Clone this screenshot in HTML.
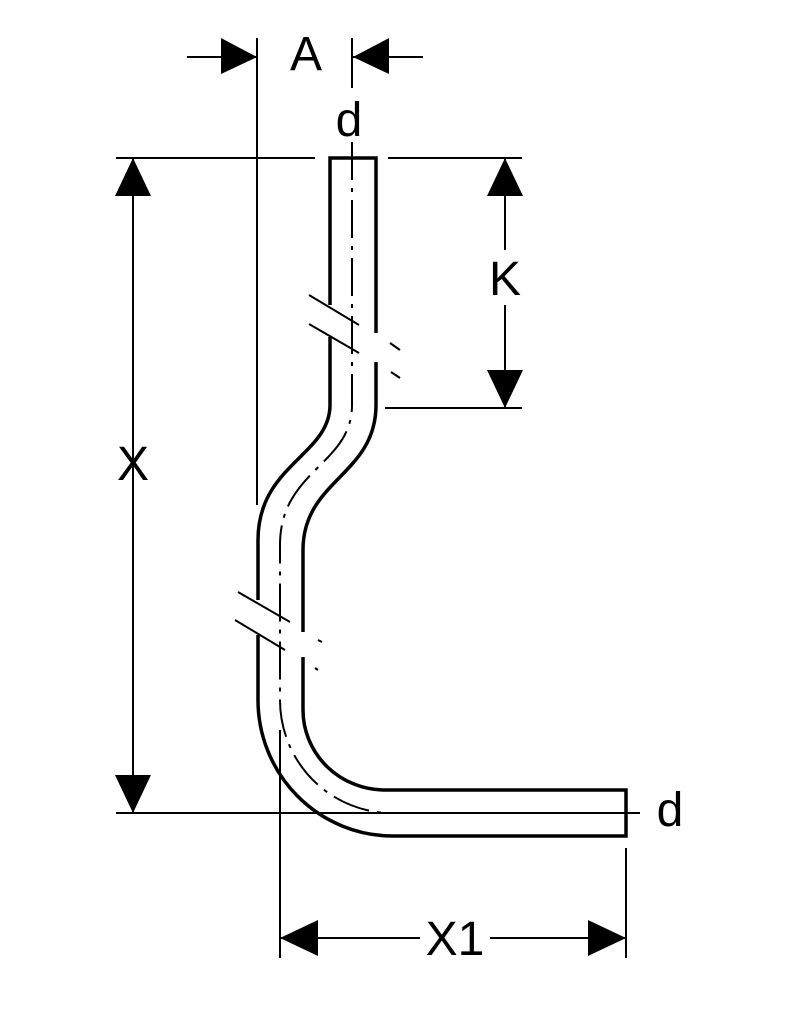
<!DOCTYPE html>
<html><head><style>html,body{margin:0;padding:0;background:#fff}svg{display:block}text{font-family:"Liberation Sans",sans-serif;font-size:48px;fill:#000}</style></head>
<body>
<svg width="799" height="1024" viewBox="0 0 799 1024" xmlns="http://www.w3.org/2000/svg">
<g stroke="#000" fill="none" stroke-width="2">
  <line x1="187" y1="57" x2="257" y2="57"/>
  <line x1="353" y1="57" x2="423" y2="57"/>
  <line x1="257" y1="38" x2="257" y2="505"/>
  <line x1="352" y1="38" x2="352" y2="88"/>
  <line x1="116" y1="158" x2="315" y2="158"/>
  <line x1="388" y1="158" x2="522" y2="158"/>
  <line x1="385" y1="408" x2="522" y2="408"/>
  <line x1="133" y1="158" x2="133" y2="813"/>
  <line x1="505" y1="158" x2="505" y2="250"/>
  <line x1="505" y1="305" x2="505" y2="408"/>
  <line x1="116" y1="813" x2="640" y2="813"/>
  <line x1="280" y1="730" x2="280" y2="958"/>
  <line x1="626" y1="848" x2="626" y2="958"/>
  <line x1="280" y1="938" x2="420" y2="938"/>
  <line x1="490" y1="938" x2="626" y2="938"/>
</g>
<g fill="#000">
  <polygon points="257,57 221,38 221,74"/>
  <polygon points="353,57 389,38 389,74"/>
  <polygon points="133,158 115,196 151,196"/>
  <polygon points="133,813 115,775 151,775"/>
  <polygon points="505,158 487,196 523,196"/>
  <polygon points="505,408 487,370 523,370"/>
  <polygon points="280,938 318,920 318,956"/>
  <polygon points="626,938 588,920 588,956"/>
</g>
<g stroke="#000" fill="none" stroke-width="3.5">
  <path d="M330,305 L330,158 L376,158 L376,333"/>
  <path d="M330,337 L330,405 C330,455 258,465 258,540 L258,600"/>
  <path d="M376,362 L376,405 C376,475 303,480 303,550 L303,632"/>
  <path d="M258,635 L258,700 A135,136 0 0 0 393,836 L626,836 L626,790 L385,790 A82,80 0 0 1 303,710 L303,657"/>
</g>
<g stroke="#000" fill="none" stroke-width="2">
  <line x1="309" y1="295" x2="359" y2="325"/>
  <line x1="309" y1="324" x2="359" y2="353"/>
  <line x1="390" y1="343" x2="400" y2="350"/>
  <line x1="391" y1="372" x2="400" y2="378"/>
  <line x1="238" y1="592" x2="290" y2="622"/>
  <line x1="235" y1="620" x2="285" y2="650"/>
  <line x1="318" y1="640" x2="322" y2="642"/>
  <line x1="315" y1="668" x2="318" y2="670"/>
  <path d="M352,142 L352,405 C352,465 280,470 280,545 L280,700 A112,113 0 0 0 392,813 L626,813" stroke-dasharray="38,8,4,8"/>
</g>
<text x="306" y="70" text-anchor="middle">A</text>
<text x="349" y="136" text-anchor="middle">d</text>
<text x="505" y="295" text-anchor="middle">K</text>
<text x="133" y="480" text-anchor="middle">X</text>
<text x="670" y="826" text-anchor="middle">d</text>
<text x="455" y="955" text-anchor="middle">X1</text>
</svg>
</body></html>
